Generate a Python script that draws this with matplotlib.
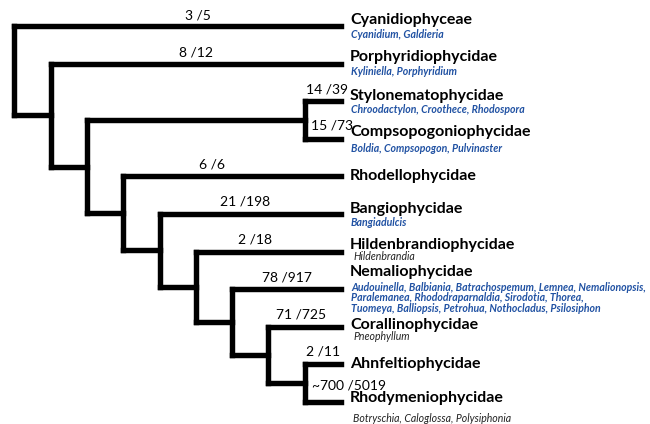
import matplotlib
matplotlib.use("Agg")
from matplotlib import pyplot as plt

# ---------------------------------------------------------------- data
# cladogram topology (leaf names), nested pairs
tree = ("Cyanidiophyceae",
        ("Porphyridiophycidae",
         (("Stylonematophycidae", "Compsopogoniophycidae"),
          ("Rhodellophycidae",
           ("Bangiophycidae",
            ("Hildenbrandiophycidae",
             ("Nemaliophycidae",
              ("Corallinophycidae",
               ("Ahnfeltiophycidae", "Rhodymeniophycidae")))))))))

leaves = ["Cyanidiophyceae", "Porphyridiophycidae", "Stylonematophycidae",
          "Compsopogoniophycidae", "Rhodellophycidae", "Bangiophycidae",
          "Hildenbrandiophycidae", "Nemaliophycidae", "Corallinophycidae",
          "Ahnfeltiophycidae", "Rhodymeniophycidae"]

counts = ["3 /5", "8 /12", "14 /39", "15 /73", "6 /6", "21 /198",
          "2 /18", "78 /917", "71 /725", "2 /11", "~700 /5019"]

genera = [["Cyanidium, Galdieria"],
          ["Kyliniella, Porphyridium"],
          ["Chroodactylon, Croothece, Rhodospora"],
          ["Boldia, Compsopogon, Pulvinaster"],
          [],
          ["Bangiadulcis"],
          ["Hildenbrandia"],
          ["Audouinella, Balbiania, Batrachospemum, Lemnea, Nemalionopsis,",
           "Paralemanea, Rhododraparnaldia, Sirodotia, Thorea,",
           "Tuomeya, Balliopsis, Petrohua, Nothocladus, Psilosiphon"],
          ["Pneophyllum"],
          [],
          ["Botryschia, Caloglossa, Polysiphonia"]]

# genera drawn in blue (True) or plain dark italic (False)
genera_blue = [True, True, True, True, True, True, False, True, False, True, False]

# ---------------------------------------------------------------- layout
LEAF_X = 341.0
STEP_X = 36.3
TOP_Y = 26.0
GAP_Y = 37.6
LW = 3.9
BLUE = "#2152a3"

# per-leaf text nudges (pixels)
name_dy = [-6, -7, -5, -7, 0, -5, -7, -17, -2, 0, -4]
genus_dy = [8, 8, 8, 10, 0, 8, 5, -2, 10, 0, 16]
count_dy = [-11, -11, -12, -13, -12, -12, -12, -12, -12, -13, -17]
count_dx = [20, 0, 0, 0, -20, -5, -13, 0, -4, 0, 0]
# labels on short terminal branches start just right of their node
count_left = [None, None, 1, 6, None, None, None, None, None, None, 7]

leaf_y = {name: TOP_Y + i * GAP_Y for i, name in enumerate(leaves)}


def height(node):
    if isinstance(node, str):
        return 0
    return 1 + max(height(c) for c in node)


def node_pos(node):
    if isinstance(node, str):
        return LEAF_X, leaf_y[node]
    ys = [node_pos(c)[1] for c in node]
    return LEAF_X - height(node) * STEP_X, sum(ys) / len(ys)


fig = plt.figure(figsize=(6.5, 4.24), dpi=100)
ax = fig.add_axes([0, 0, 1, 1])
ax.set_xlim(0, 650)
ax.set_ylim(424, 0)
ax.axis("off")

branch_start = {}


def draw(node):
    if isinstance(node, str):
        return
    x, _ = node_pos(node)
    child_ys = [node_pos(c)[1] for c in node]
    ax.plot([x, x], [min(child_ys), max(child_ys)], color="black",
            lw=LW, solid_capstyle="projecting")
    for c in node:
        cx, cy = node_pos(c)
        ax.plot([x, cx], [cy, cy], color="black", lw=LW,
                solid_capstyle="projecting")
        if isinstance(c, str):
            branch_start[c] = x
        draw(c)


draw(tree)

for i, name in enumerate(leaves):
    y = leaf_y[name]
    x0 = branch_start[name]
    # branch count label
    if count_left[i] is None:
        ax.text((x0 + LEAF_X) / 2 + count_dx[i], y + count_dy[i], counts[i],
                ha="center", va="center", fontsize=10, family="Lato")
    else:
        ax.text(x0 + count_left[i], y + count_dy[i], counts[i],
                ha="left", va="center", fontsize=10, family="Lato")
    # taxon name
    ax.text(350, y + name_dy[i], name, ha="left", va="center",
            fontsize=11.5, fontweight="bold", family="Lato")
    # genera
    for j, line in enumerate(genera[i]):
        if genera_blue[i]:
            ax.text(351, y + genus_dy[i] + j * 10.5, line, ha="left",
                    va="center", fontsize=7.6, style="italic",
                    fontweight="bold", color=BLUE, family="Lato")
        else:
            ax.text(353, y + genus_dy[i] + j * 10.5, line, ha="left",
                    va="center", fontsize=7.6, style="italic",
                    color="#222222", family="Lato")

fig.savefig("out.png", dpi=100)
